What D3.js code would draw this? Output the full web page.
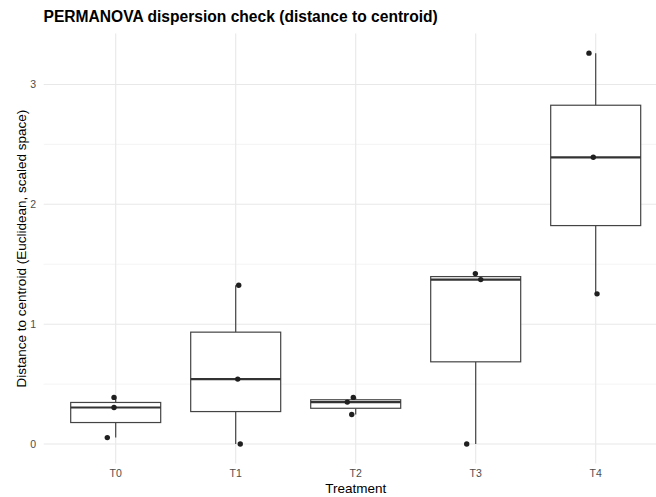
<!DOCTYPE html>
<html>
<head>
<meta charset="utf-8">
<script src="https://cdn.jsdelivr.net/npm/d3@7"></script>
<style>
  html, body { margin: 0; padding: 0; background: #fff; }
  svg { display: block; }
  text { font-family: "Liberation Sans", Arial, Helvetica, sans-serif; }
</style>
</head>
<body>
<svg id="chart" width="656" height="497"></svg>
<script>
// Treatments and each sample's distance to its group centroid
const treatments = ["T0", "T1", "T2", "T3", "T4"];
const distT0 = [0.389, 0.305, 0.054];
const distT1 = [1.325, 0.542, 0.000];
const distT2 = [0.389, 0.350, 0.247];
const distT3 = [1.422, 1.372, 0.000];
const distT4 = [3.261, 2.392, 1.253];
// horizontal jitter for the sample points, in category widths
const jitterT0 = [-0.014, -0.014, -0.070];
const jitterT1 = [0.025, 0.017, 0.038];
const jitterT2 = [-0.020, -0.070, -0.033];
const jitterT3 = [-0.003, 0.042, -0.075];
const jitterT4 = [-0.056, -0.020, 0.011];
const yTicks = [0, 1, 2, 3];
const yMinor = [0.5, 1.5, 2.5];

const groups = [distT0, distT1, distT2, distT3, distT4];
const jitters = [jitterT0, jitterT1, jitterT2, jitterT3, jitterT4];

const svg = d3.select("#chart");
const panel = { left: 43.7, right: 667.7, top: 33.6, bottom: 463.6 };

const x = d3.scalePoint().domain(treatments)
  .range([panel.left, panel.right]).padding(0.6);
const step = x.step();

const allVals = groups.flat();
const lo = d3.min(allVals), hi = d3.max(allVals);
const pad = (hi - lo) * 0.05;
const y = d3.scaleLinear().domain([lo - pad, hi + pad])
  .range([panel.bottom, panel.top]);

// grid
const grid = svg.append("g");
grid.selectAll("line.minor").data(yMinor).join("line")
  .attr("x1", panel.left).attr("x2", panel.right)
  .attr("y1", d => y(d)).attr("y2", d => y(d))
  .attr("stroke", "#ececec").attr("stroke-width", 0.6);
grid.selectAll("line.major").data(yTicks).join("line")
  .attr("x1", panel.left).attr("x2", panel.right)
  .attr("y1", d => y(d)).attr("y2", d => y(d))
  .attr("stroke", "#e8e8e8").attr("stroke-width", 1.1);
grid.selectAll("line.vert").data(treatments).join("line")
  .attr("x1", d => x(d)).attr("x2", d => x(d))
  .attr("y1", panel.top).attr("y2", panel.bottom)
  .attr("stroke", "#e8e8e8").attr("stroke-width", 1.1);

// box statistics (R type-7 quantiles, 1.5 IQR whiskers)
const stats = groups.map((vals, i) => {
  const s = vals.slice().sort(d3.ascending);
  const q1 = d3.quantile(s, 0.25), med = d3.quantile(s, 0.5), q3 = d3.quantile(s, 0.75);
  const iqr = q3 - q1;
  const wLo = d3.min(s.filter(v => v >= q1 - 1.5 * iqr));
  const wHi = d3.max(s.filter(v => v <= q3 + 1.5 * iqr));
  return { key: treatments[i], q1, med, q3, wLo, wHi };
});

const boxW = step * 0.75;
const boxes = svg.append("g");
const bg = boxes.selectAll("g").data(stats).join("g");
bg.append("line")
  .attr("x1", d => x(d.key)).attr("x2", d => x(d.key))
  .attr("y1", d => y(d.q3)).attr("y2", d => y(d.wHi))
  .attr("stroke", "#444").attr("stroke-width", 1.2);
bg.append("line")
  .attr("x1", d => x(d.key)).attr("x2", d => x(d.key))
  .attr("y1", d => y(d.q1)).attr("y2", d => y(d.wLo))
  .attr("stroke", "#444").attr("stroke-width", 1.2);
bg.append("rect")
  .attr("x", d => x(d.key) - boxW / 2).attr("width", boxW)
  .attr("y", d => y(d.q3)).attr("height", d => y(d.q1) - y(d.q3))
  .attr("fill", "#fff").attr("stroke", "#444").attr("stroke-width", 1.2);
bg.append("line")
  .attr("x1", d => x(d.key) - boxW / 2).attr("x2", d => x(d.key) + boxW / 2)
  .attr("y1", d => y(d.med)).attr("y2", d => y(d.med))
  .attr("stroke", "#333").attr("stroke-width", 2.2);

// sample points
const pts = [];
groups.forEach((vals, i) => vals.forEach((v, j) =>
  pts.push({ key: treatments[i], v, jit: jitters[i][j] })));
svg.append("g").selectAll("circle").data(pts).join("circle")
  .attr("cx", d => x(d.key) + d.jit * step)
  .attr("cy", d => y(d.v))
  .attr("r", 2.7)
  .attr("fill", "#1f1f1f");

// axes labels
svg.append("g").selectAll("text").data(yTicks).join("text")
  .attr("x", 36).attr("y", d => y(d)).attr("dy", "0.35em")
  .attr("text-anchor", "end").attr("font-size", 10.5).attr("fill", "#4d4d4d")
  .text(d => d3.format("d")(d));
svg.append("g").selectAll("text").data(treatments).join("text")
  .attr("x", d => x(d)).attr("y", 477)
  .attr("text-anchor", "middle").attr("font-size", 10.5).attr("fill", "#4d4d4d")
  .text(d => d);

svg.append("text")
  .attr("x", x("T2")).attr("y", 493)
  .attr("text-anchor", "middle").attr("font-size", 13.5).attr("fill", "#000")
  .text("Treatment");
svg.append("text")
  .attr("transform", `translate(26,${(panel.top + panel.bottom) / 2}) rotate(-90)`)
  .attr("text-anchor", "middle").attr("font-size", 13.5).attr("fill", "#000")
  .text("Distance to centroid (Euclidean, scaled space)");

svg.append("text")
  .attr("x", 43.5).attr("y", 22)
  .attr("font-size", 15.6).attr("font-weight", "bold").attr("fill", "#000")
  .text("PERMANOVA dispersion check (distance to centroid)");
</script>
</body>
</html>
